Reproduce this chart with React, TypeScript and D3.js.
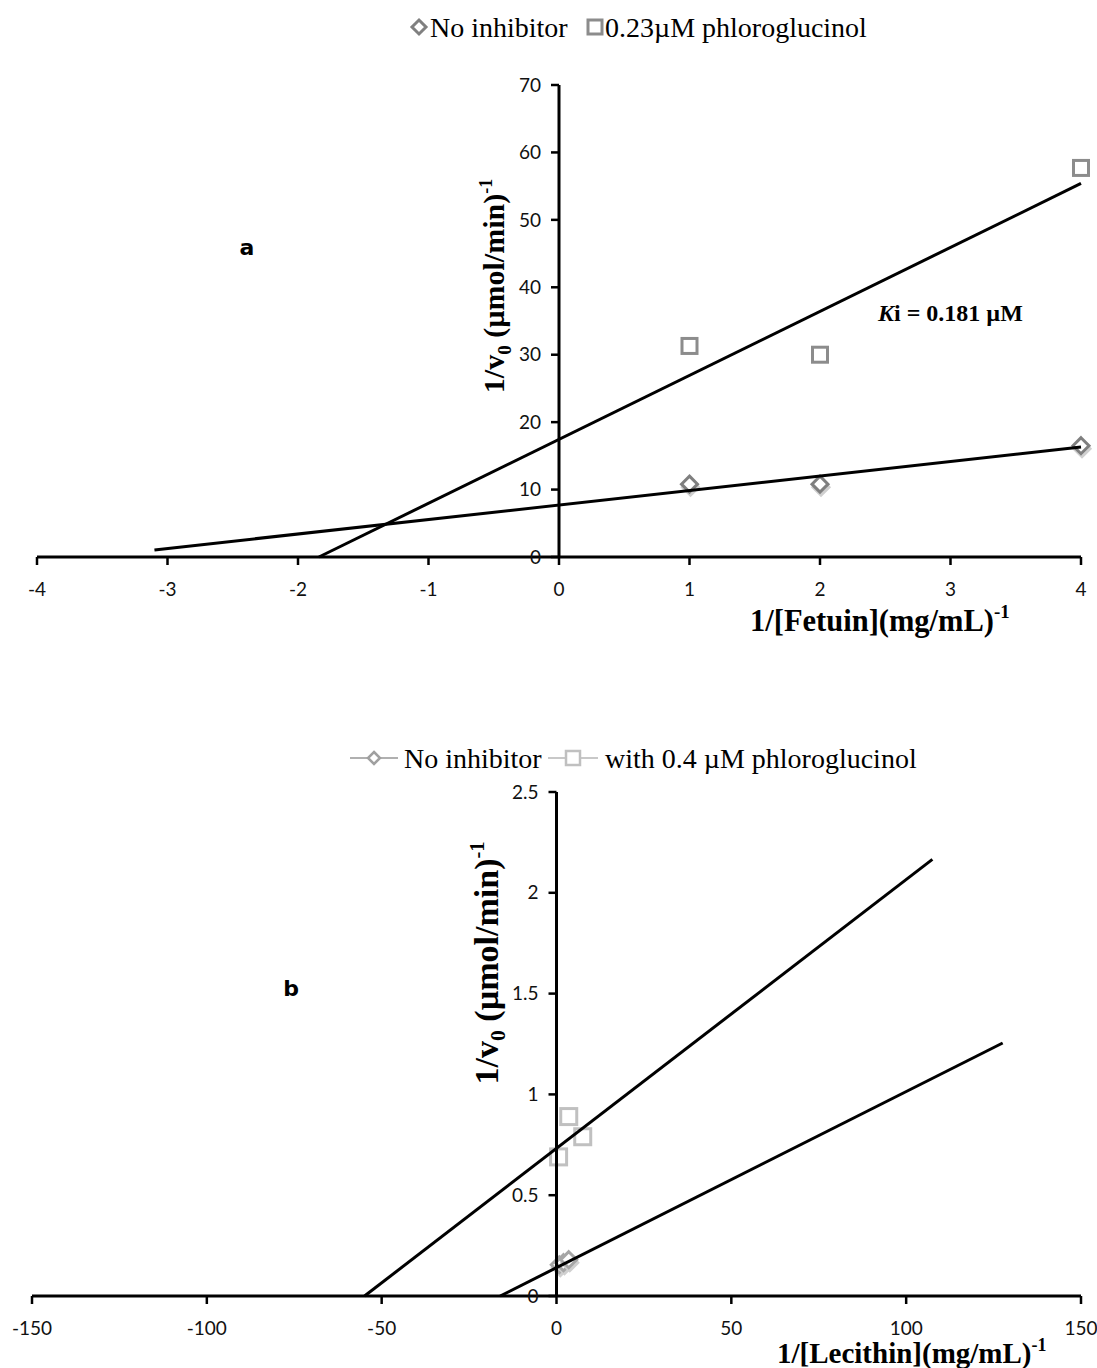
import React from 'react';
import * as d3 from 'd3';

// panel a: 1/[Fetuin]
const fetuinX = [1, 2, 4];
const fetuinNoInhibitor = [10.8, 10.8, 16.5];
const fetuinInhibitor = [31.3, 30.0, 57.7];
const fetuinFitNoInhibitor: [number, number][] = [[-3.1, 1.05], [4, 16.3]];
const fetuinFitInhibitor: [number, number][] = [[-1.84, 0], [4, 55.4]];
const fetuinXTicks = [-4, -3, -2, -1, 0, 1, 2, 3, 4];
const fetuinYTicks = [0, 10, 20, 30, 40, 50, 60, 70];

// panel b: 1/[Lecithin]
const lecithinXNoInhibitor = [0.8, 2, 3.5];
const lecithinNoInhibitor = [0.155, 0.165, 0.18];
const lecithinXInhibitor = [0.6, 3.5, 7.5];
const lecithinInhibitor = [0.69, 0.89, 0.79];
const lecithinFitNoInhibitor: [number, number][] = [[-16.1, 0], [127.6, 1.255]];
const lecithinFitInhibitor: [number, number][] = [[-54.9, 0], [107.5, 2.166]];
const lecithinXTicks = [-150, -100, -50, 0, 50, 100, 150];
const lecithinYTicks = [0, 0.5, 1, 1.5, 2, 2.5];

const SERIF = '"Liberation Serif", "Times New Roman", serif';
const TICK_FONT = 'Lato, "Liberation Sans", sans-serif';

const diamond = (r: number) => `M0,${-r}L${r},0L0,${r}L${-r},0Z`;

interface PanelProps {
  xDomain: [number, number];
  xRange: [number, number];
  yDomain: [number, number];
  yRange: [number, number];
  xTicks: number[];
  yTicks: number[];
  diamonds: [number, number][];
  squares: [number, number][];
  fits: [number, number][][];
  diamondColor: string;
  squareColor: string;
  diamondR: number;
  squareS: number;
}

const Panel: React.FC<PanelProps> = (p) => {
  const x = d3.scaleLinear().domain(p.xDomain).range(p.xRange);
  const y = d3.scaleLinear().domain(p.yDomain).range(p.yRange);
  const line = d3
    .line<[number, number]>()
    .x((d) => x(d[0]))
    .y((d) => y(d[1]));
  const x0 = x(0);
  const y0 = y(0);
  return (
    <g>
      {/* points under the fit lines */}
      {p.diamonds.map((d, i) => (
        <g key={'d' + i} transform={`translate(${x(d[0])},${y(d[1])})`}>
          <path d={diamond(p.diamondR)} transform="translate(1,3)" fill="none" stroke="#d0d0d0" strokeWidth={3} />
          <path d={diamond(p.diamondR)} fill="white" stroke={p.diamondColor} strokeWidth={3} />
        </g>
      ))}
      {p.squares.map((d, i) => (
        <rect
          key={'s' + i}
          x={x(d[0]) - p.squareS / 2}
          y={y(d[1]) - p.squareS / 2}
          width={p.squareS}
          height={p.squareS}
          fill="white"
          stroke={p.squareColor}
          strokeWidth={3}
        />
      ))}
      {p.fits.map((f, i) => (
        <path key={'f' + i} d={line(f) || ''} fill="none" stroke="black" strokeWidth={3} />
      ))}
      {/* x axis */}
      <line x1={p.xRange[0]} x2={p.xRange[1]} y1={y0} y2={y0} stroke="black" strokeWidth={3} />
      {p.xTicks.map((t) => (
        <g key={'xt' + t}>
          <line x1={x(t)} x2={x(t)} y1={y0} y2={y0 + 8} stroke="black" strokeWidth={2.5} />
          <text x={x(t)} y={y0 + 39} textAnchor="middle" fontFamily={TICK_FONT} fontSize={19} fill="#111">
            {t}
          </text>
        </g>
      ))}
      {/* y axis */}
      <line x1={x0} x2={x0} y1={p.yRange[1]} y2={y0} stroke="black" strokeWidth={3} />
      {p.yTicks.map((t) => (
        <g key={'yt' + t}>
          <line x1={x0 - 8} x2={x0} y1={y(t)} y2={y(t)} stroke="black" strokeWidth={2.5} />
          <text x={x0 - 18} y={y(t)} dy="0.35em" textAnchor="end" fontFamily={TICK_FONT} fontSize={19} fill="#111">
            {t}
          </text>
        </g>
      ))}
    </g>
  );
};

const YLabel: React.FC<{ x: number; y: number; size: number }> = ({ x, y, size }) => (
  <text
    transform={`translate(${x},${y}) rotate(-90)`}
    textAnchor="middle"
    fontFamily={SERIF}
    fontWeight="bold"
    fontSize={size}
    fill="black"
  >
    1/v<tspan fontSize={size * 0.64} dy={size * 0.22}>0</tspan>
    <tspan dy={-size * 0.22}> (µmol/min)</tspan>
    <tspan fontSize={size * 0.6} dy={-size * 0.4}>-1</tspan>
  </text>
);

const XLabel: React.FC<{ x: number; y: number; name: string; size: number }> = ({ x, y, name, size }) => (
  <text x={x} y={y} textAnchor="start" fontFamily={SERIF} fontWeight="bold" fontSize={size} fill="black">
    1/[{name}](mg/mL)<tspan fontSize={size * 0.62} dy={-size * 0.42}>-1</tspan>
  </text>
);

const App: React.FC = () => {
  const zip = (xs: number[], ys: number[]) => xs.map((v, i) => [v, ys[i]] as [number, number]);
  return (
    <div style={{ position: 'absolute', left: 0, top: 0 }}>
      <svg width={1097} height={1368} style={{ display: 'block', background: 'white' }}>
        {/* legend a */}
        <g fontFamily={SERIF} fontSize={28} fill="black">
          <path d={diamond(7)} transform="translate(419,27)" fill="white" stroke="#808080" strokeWidth={3} />
          <text x={430} y={37}>No inhibitor</text>
          <rect x={588} y={20} width={14} height={14} fill="white" stroke="#8c8c8c" strokeWidth={3} />
          <text x={605} y={37}>0.23µM phloroglucinol</text>
        </g>

        <Panel
          xDomain={[-4, 4]}
          xRange={[37, 1081]}
          yDomain={[0, 70]}
          yRange={[557, 85]}
          xTicks={fetuinXTicks}
          yTicks={fetuinYTicks}
          diamonds={zip(fetuinX, fetuinNoInhibitor)}
          squares={zip(fetuinX, fetuinInhibitor)}
          fits={[fetuinFitNoInhibitor, fetuinFitInhibitor]}
          diamondColor="#7f7f7f"
          squareColor="#8c8c8c"
          diamondR={8}
          squareS={15}
        />
        <YLabel x={504} y={286} size={30} />
        <XLabel x={750} y={631} name="Fetuin" size={30.5} />
        <text x={247} y={255} textAnchor="middle" fontFamily='"DejaVu Sans", sans-serif' fontWeight="900" fontSize={22}>
          a
        </text>
        <text x={878} y={321} fontFamily={SERIF} fontWeight="bold" fontSize={24}>
          <tspan fontStyle="italic">K</tspan>i = 0.181 µM
        </text>

        {/* legend b */}
        <g fontFamily={SERIF} fontSize={28} fill="black">
          <line x1={350} x2={398} y1={758} y2={758} stroke="#b0b0b0" strokeWidth={2} />
          <path d={diamond(6)} transform="translate(374,758)" fill="white" stroke="#a0a0a0" strokeWidth={2.5} />
          <text x={404} y={768}>No inhibitor</text>
          <line x1={548} x2={598} y1={758} y2={758} stroke="#c8c8c8" strokeWidth={2} />
          <rect x={566} y={751} width={14} height={14} fill="white" stroke="#c0c0c0" strokeWidth={2.5} />
          <text x={605} y={768}>with 0.4 µM phloroglucinol</text>
        </g>

        <Panel
          xDomain={[-150, 150]}
          xRange={[32, 1081]}
          yDomain={[0, 2.5]}
          yRange={[1296, 792]}
          xTicks={lecithinXTicks}
          yTicks={lecithinYTicks}
          diamonds={zip(lecithinXNoInhibitor, lecithinNoInhibitor)}
          squares={zip(lecithinXInhibitor, lecithinInhibitor)}
          fits={[lecithinFitNoInhibitor, lecithinFitInhibitor]}
          diamondColor="#a6a6a6"
          squareColor="#c0c0c0"
          diamondR={8}
          squareS={16}
        />
        <YLabel x={498} y={963} size={34} />
        <XLabel x={777} y={1363} name="Lecithin" size={29} />
        <text x={291} y={996} textAnchor="middle" fontFamily='"DejaVu Sans", sans-serif' fontWeight="900" fontSize={22}>
          b
        </text>
      </svg>
    </div>
  );
};

export default App;
